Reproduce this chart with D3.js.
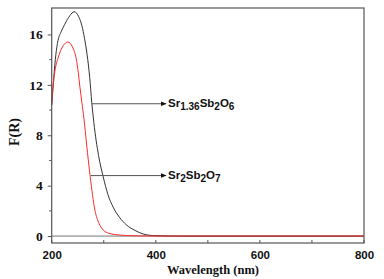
<!DOCTYPE html>
<html>
<head>
<meta charset="utf-8">
<script src="https://cdn.jsdelivr.net/npm/d3@7"></script>
<style>
  html, body { margin: 0; padding: 0; background: #fff; }
  svg { display: block; }
</style>
</head>
<body>
<div id="chart"></div>
<script>
// wavelength (nm) / F(R) pairs
const blackWl = [200, 204, 208, 212, 218, 225, 235, 243, 252, 258, 263, 268, 273, 277, 281, 290, 299, 308, 318, 330, 344, 360, 376, 400, 450, 800];
const blackFr = [10.4, 12.6, 14.4, 15.5, 16.2, 16.8, 17.5, 17.8, 17.4, 16.7, 15.7, 14.4, 12.6, 10.6, 9.0, 6.4, 4.7, 3.3, 2.3, 1.5, 0.87, 0.45, 0.16, 0.03, 0, 0];
const redWl = [200, 203, 207, 212, 217, 222, 231, 240, 247, 251, 254, 258, 262, 267, 274, 283, 291, 299, 310, 331, 360, 400, 800];
const redFr = [10.4, 12.0, 13.3, 14.1, 14.7, 15.1, 15.4, 15.0, 14.1, 13.0, 11.9, 10.6, 9.3, 7.3, 4.7, 2.06, 1.0, 0.48, 0.22, 0.08, 0.02, 0, 0];

const xTicks = [200, 400, 600, 800];
const xMinor = [300, 500, 700];
const yTicks = [0, 4, 8, 12, 16];
const yMinor = [2, 6, 10, 14];

// labels: name parts ([text, isSubscript]), arrow start wavelength and F(R) level
const labels = [
  { parts: [['Sr', 0], ['1.36', 1], ['Sb', 0], ['2', 1], ['O', 0], ['6', 1]], wl: 277, at: 10.5 },
  { parts: [['Sr', 0], ['2', 1], ['Sb', 0], ['2', 1], ['O', 0], ['7', 1]], wl: 275, at: 4.8 }
];

const width = 384, height = 279;
const margin = { top: 8, right: 20, bottom: 36, left: 51.7 };

const svg = d3.select('#chart').append('svg')
  .attr('width', width)
  .attr('height', height);

const x = d3.scaleLinear().domain([200, 800]).range([margin.left, width - margin.right]);
const y = d3.scaleLinear().domain([-0.55, 18.1]).range([height - margin.bottom, margin.top]);

const axisColor = '#555';

// zero baseline
svg.append('line')
  .attr('x1', x(200)).attr('x2', x(800))
  .attr('y1', y(0)).attr('y2', y(0))
  .attr('stroke', '#777').attr('stroke-width', 1);

// curves
const line = d3.line()
  .x(d => x(d[0]))
  .y(d => y(d[1]))
  .curve(d3.curveMonotoneX);

svg.append('path')
  .datum(d3.zip(blackWl, blackFr))
  .attr('fill', 'none')
  .attr('stroke', '#333')
  .attr('stroke-width', 1)
  .attr('d', line);

svg.append('path')
  .datum(d3.zip(redWl, redFr))
  .attr('fill', 'none')
  .attr('stroke', '#ff2a2a')
  .attr('stroke-width', 1)
  .attr('d', line);

// frame
svg.append('rect')
  .attr('x', x(200)).attr('y', y(18.1))
  .attr('width', x(800) - x(200))
  .attr('height', y(-0.55) - y(18.1))
  .attr('fill', 'none')
  .attr('stroke', axisColor)
  .attr('stroke-width', 1.2);

// x axis (ticks point inward)
const gx = svg.append('g')
  .attr('transform', `translate(0,${y(-0.55)})`)
  .call(d3.axisBottom(x).tickValues(xTicks).tickSize(0).tickPadding(8))
  .call(g => g.select('.domain').remove());
gx.selectAll('text')
  .attr('font-family', 'Liberation Sans, Arial, sans-serif')
  .attr('font-weight', 'bold')
  .attr('font-size', 11.5)
  .attr('fill', '#111');
svg.append('g')
  .selectAll('line')
  .data(xTicks.concat(xMinor))
  .join('line')
  .attr('x1', d => x(d)).attr('x2', d => x(d))
  .attr('y1', y(-0.55)).attr('y2', y(-0.55) - 3)
  .attr('stroke', axisColor).attr('stroke-width', 1);

// y axis (ticks point outward)
const gy = svg.append('g')
  .attr('transform', `translate(${x(200)},0)`)
  .call(d3.axisLeft(y).tickValues(yTicks).tickSize(4).tickPadding(5))
  .call(g => g.select('.domain').remove());
gy.selectAll('.tick line').attr('stroke', axisColor);
gy.selectAll('text')
  .attr('font-family', 'Liberation Serif, Times New Roman, serif')
  .attr('font-weight', 'bold')
  .attr('font-size', 13.5)
  .attr('fill', '#111');
svg.append('g')
  .selectAll('line')
  .data(yMinor)
  .join('line')
  .attr('x1', x(200) - 2.5).attr('x2', x(200))
  .attr('y1', d => y(d)).attr('y2', d => y(d))
  .attr('stroke', axisColor).attr('stroke-width', 1);

// axis titles
svg.append('text')
  .attr('x', 213).attr('y', 274)
  .attr('text-anchor', 'middle')
  .attr('font-family', 'Liberation Serif, Times New Roman, serif')
  .attr('font-weight', 'bold')
  .attr('font-size', 12.5)
  .attr('fill', '#111')
  .text('Wavelength (nm)');

svg.append('text')
  .attr('transform', `translate(19,132) rotate(-90)`)
  .attr('text-anchor', 'middle')
  .attr('font-family', 'Liberation Serif, Times New Roman, serif')
  .attr('font-weight', 'bold')
  .attr('font-size', 14)
  .attr('fill', '#111')
  .text('F(R)');

// arrow annotations
svg.append('defs').append('marker')
  .attr('id', 'head')
  .attr('viewBox', '0 0 10 10')
  .attr('refX', 9).attr('refY', 5)
  .attr('markerWidth', 6).attr('markerHeight', 6)
  .attr('orient', 'auto')
  .append('path')
  .attr('d', 'M0,1 L10,5 L0,9 Z')
  .attr('fill', '#111');

labels.forEach(l => {
  const yy = y(l.at);
  svg.append('line')
    .attr('x1', x(l.wl)).attr('x2', 166)
    .attr('y1', yy).attr('y2', yy)
    .attr('stroke', '#555').attr('stroke-width', 1)
    .attr('marker-end', 'url(#head)');
  const t = svg.append('text')
    .attr('x', 168).attr('y', yy + 3.5)
    .attr('font-family', 'Liberation Sans, Arial, sans-serif')
    .attr('font-weight', 'bold')
    .attr('fill', '#111');
  let shifted = false;
  l.parts.forEach(([s, sub]) => {
    const ts = t.append('tspan').text(s)
      .attr('font-size', sub ? 10 : 11.5);
    if (sub && !shifted) { ts.attr('dy', 3); shifted = true; }
    else if (!sub && shifted) { ts.attr('dy', -3); shifted = false; }
  });
});
</script>
</body>
</html>
